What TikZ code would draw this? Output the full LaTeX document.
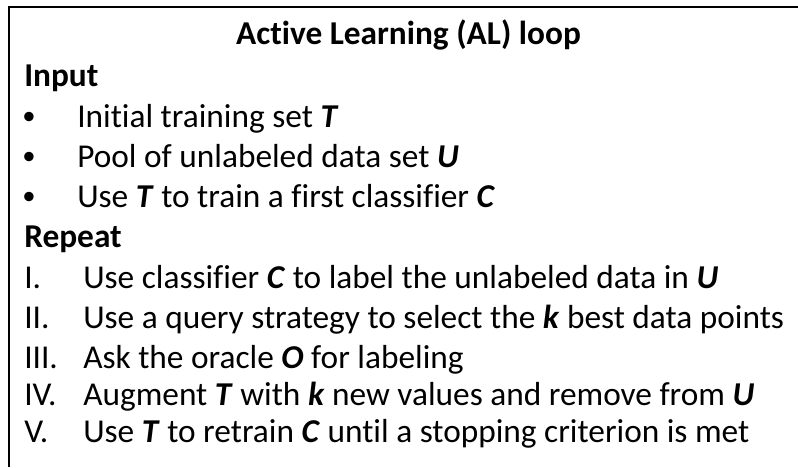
\documentclass[tikz,border=0pt]{standalone}
\usepackage{fontspec}
\setmainfont{Carlito}[Ligatures=NoCommon]
\newcommand{\bivar}[1]{\textbf{\textit{#1}}}

\begin{document}
\begin{tikzpicture}[x=0.75pt,y=-0.75pt]
	\tikzstyle{every node}=[inner sep=0pt, anchor=base west, font=\fontsize{25}{30}\selectfont]
	\tikzstyle{head}=[font=\fontsize{25}{30}\selectfont\bfseries]
	\tikzstyle{dot}=[font=\fontsize{20}{24}\selectfont]
	\useasboundingbox (0,0) rectangle (798,467);
	\draw[line width=1.5pt] (9,467) -- (9,7) -- (798,7);
	\node (title) [head, anchor=base] at (408.5,45) {Active Learning (AL) loop};
	\node (input) [head] at (24,86) {Input};
	\node (b1) [dot] at (22,124) {•};
	\node (b2) [dot] at (22,164) {•};
	\node (b3) [dot] at (22,204) {•};
	\node (in1) at (77,127) {Initial training set \bivar{T}};
	\node (in2) at (77,167) {Pool of unlabeled data set \bivar{U}};
	\node (in3) at (77,207) {Use \bivar{T} to train a first classifier \bivar{C}};
	\node (repeat) [head] at (24,247) {Repeat};
	\node (n1) at (24,288) {I.};
	\node (n2) at (24,328) {II.};
	\node (n3) at (24,368) {III.};
	\node (n4) at (24,405) {IV.};
	\node (n5) at (24,442) {V.};
	\node (s1) at (83,288) {Use classifier \bivar{C} to label the unlabeled data in \bivar{U}};
	\node (s2) at (83,328) {Use a query strategy to select the \bivar{k} best data points};
	\node (s3) at (83,368) {Ask the oracle \bivar{O} for labeling};
	\node (s4) at (83,405) {Augment \bivar{T} with \bivar{k} new values and remove from \bivar{U}};
	\node (s5) at (83,442) {Use \bivar{T} to retrain \bivar{C} until a stopping criterion is met};
\end{tikzpicture}
\end{document}
